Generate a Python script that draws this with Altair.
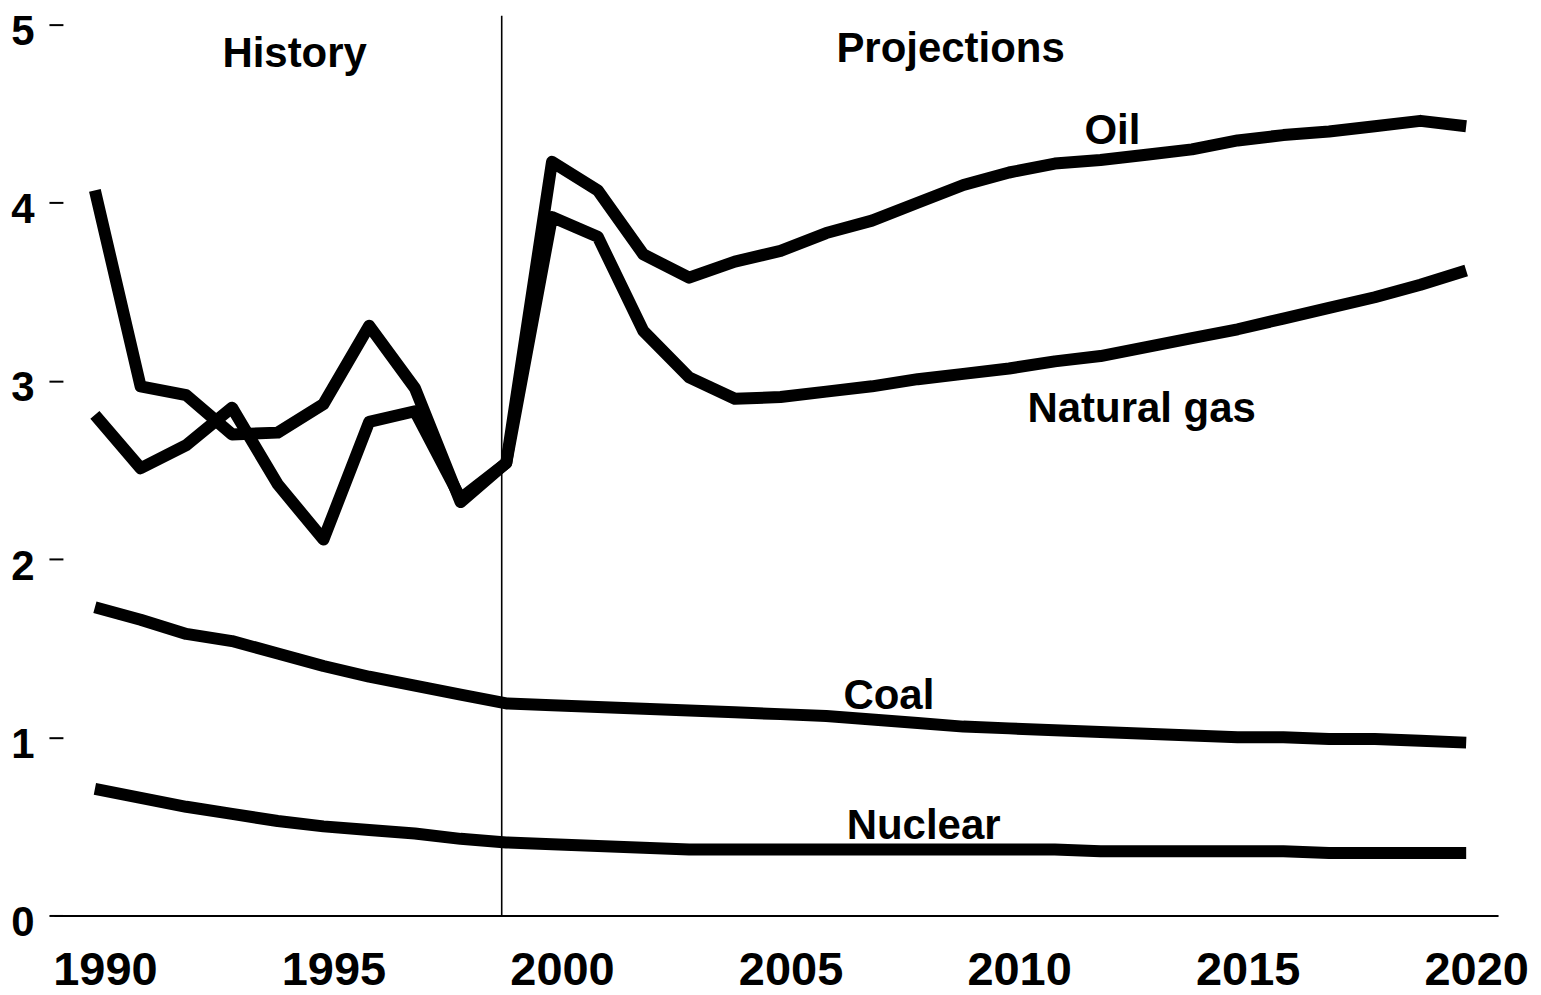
import altair as alt
import pandas as pd

years = list(range(1990, 2021))
oil = [4.07, 2.97, 2.92, 2.70, 2.71, 2.87, 3.31, 2.96, 2.32, 2.54,
       4.23, 4.07, 3.71, 3.58, 3.67, 3.73, 3.83, 3.90, 4.00, 4.10,
       4.17, 4.22, 4.24, 4.27, 4.30, 4.35, 4.38, 4.40, 4.43, 4.46, 4.43]
natural_gas = [2.81, 2.51, 2.64, 2.85, 2.42, 2.11, 2.77, 2.83, 2.34, 2.54,
               3.92, 3.81, 3.28, 3.02, 2.90, 2.91, 2.94, 2.97, 3.01, 3.04,
               3.07, 3.11, 3.14, 3.19, 3.24, 3.29, 3.35, 3.41, 3.47, 3.54, 3.62]
coal = [1.73, 1.66, 1.58, 1.54, 1.47, 1.40, 1.34, 1.29, 1.24, 1.19,
        1.18, 1.17, 1.16, 1.15, 1.14, 1.13, 1.12, 1.10, 1.08, 1.06,
        1.05, 1.04, 1.03, 1.02, 1.01, 1.00, 1.00, 0.99, 0.99, 0.98, 0.97]
nuclear = [0.71, 0.66, 0.61, 0.57, 0.53, 0.50, 0.48, 0.46, 0.43, 0.41,
           0.40, 0.39, 0.38, 0.37, 0.37, 0.37, 0.37, 0.37, 0.37, 0.37,
           0.37, 0.37, 0.36, 0.36, 0.36, 0.36, 0.36, 0.35, 0.35, 0.35, 0.35]

series = {"Oil": oil, "Natural gas": natural_gas, "Coal": coal, "Nuclear": nuclear}

label_text = ["History", "Projections", "Oil", "Natural gas", "Coal", "Nuclear"]
label_x = [1994.37, 2008.72, 2012.26, 2012.9, 2007.37, 2008.13]
label_y = [4.76, 4.79, 4.33, 2.77, 1.16, 0.43]

divider_year = [1998.9]

rows = []
for name, vals in series.items():
    for yr, v in zip(years, vals):
        rows.append({"year": yr, "value": v, "series": name})
df = pd.DataFrame(rows)
labels_df = pd.DataFrame({"text": label_text, "x": label_x, "y": label_y})
div_df = pd.DataFrame({"year": divider_year, "top": [5.05], "bottom": [0]})

xscale = alt.Scale(domain=[1989.104, 2020.697], nice=False, zero=False)
yscale = alt.Scale(domain=[0, 5], nice=False)

font = "Liberation Sans"

lines = alt.Chart(df).mark_line(color="black", strokeWidth=12, strokeJoin="round").encode(
    x=alt.X("year:Q", scale=xscale,
            axis=alt.Axis(values=[1990, 1995, 2000, 2005, 2010, 2015, 2020], format="d",
                          title=None, ticks=False, grid=False, domain=True,
                          domainColor="black", domainWidth=2, labelFont=font,
                          labelFontSize=47, labelFontWeight="bold", labelColor="black",
                          labelPadding=32, labelOffset=10, labelFlush=False)),
    y=alt.Y("value:Q", scale=yscale,
            axis=alt.Axis(values=[0, 1, 2, 3, 4, 5], format="d", title=None, domain=False,
                          grid=False, ticks=True, tickSize=14, tickWidth=2, tickColor="black",
                          offset=-9, labelPadding=15, labelFont=font, labelFontSize=42,
                          labelFontWeight="bold", labelColor="black", labelOffset=7,
                          labelFlush=False)),
    detail="series:N",
)

divider = alt.Chart(div_df).mark_rule(color="black", strokeWidth=1.6).encode(
    x=alt.X("year:Q", scale=xscale),
    y=alt.Y("top:Q", scale=yscale),
    y2="bottom:Q",
)

texts = alt.Chart(labels_df).mark_text(
    font=font, fontSize=42, fontWeight="bold", color="black",
    align="center", baseline="alphabetic"
).encode(
    x=alt.X("x:Q", scale=xscale),
    y=alt.Y("y:Q", scale=yscale),
    text="text:N",
)

chart = alt.layer(divider, lines, texts).properties(
    width=1446, height=892,
    autosize=alt.AutoSizeParams(type="none"),
    padding={"left": 46, "top": 16, "right": 35, "bottom": 78},
    background="white",
).configure_view(stroke=None)

chart.save("out.html", embed_options={"renderer": "svg", "actions": False})
